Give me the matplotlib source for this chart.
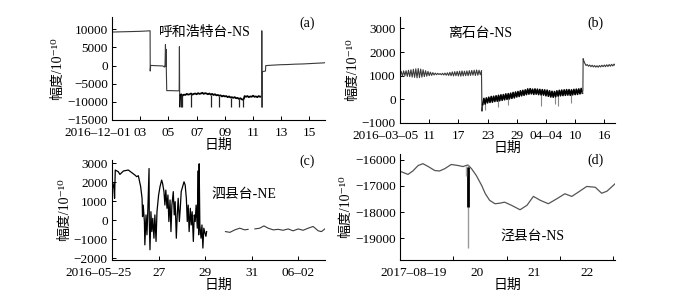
import numpy as np
import matplotlib
matplotlib.use("Agg")
import matplotlib.pyplot as plt
from matplotlib.transforms import ScaledTranslation

plt.rcParams["font.family"] = ["Liberation Serif", "Noto Sans CJK SC", "DejaVu Serif"]
plt.rcParams["font.size"] = 9.5

# ---------------- (a) 呼和浩特台-NS, days since 2016-12-01 ----------------
a_days = [0.0, 0.5, 1.0, 1.5, 2.0, 2.5, 2.70, 2.71, 2.74, 3.0, 3.3, 3.6, 3.72, 3.76,
          3.79, 3.81, 3.83, 3.85, 3.88, 4.2, 4.5, 4.76, 4.78, 4.80]
a_vals = [9250, 9300, 9350, 9400, 9450, 9550, 9600, -1500, 50, 0, -50, -100, -400, 200,
          5800, -300, 4500, -800, -6900, -6900, -6950, -6950, 5200, -11300]
a_noise_days = [4.85, 4.9, 5.0, 5.1, 5.2, 5.3, 5.4, 5.5, 5.6, 5.7, 5.8, 5.9, 6.0, 6.1, 6.2,
                6.3, 6.4, 6.5, 6.6, 6.7, 6.8, 6.9, 7.0, 7.1, 7.2, 7.3, 7.4, 7.5, 7.6, 7.7,
                7.8, 7.9, 8.0, 8.1, 8.2, 8.3, 8.4, 8.5, 8.6, 8.7, 8.8, 8.9, 9.0, 9.1, 9.2,
                9.3, 9.35, 9.4, 9.5, 9.6, 9.7, 9.8, 9.9, 10.0, 10.1, 10.2, 10.3, 10.4, 10.5, 10.6]
a_noise_vals = [-8200, -7900, -8300, -8000, -8100, -7800, -8000, -7900, -7700, -8000, -7800,
                -7700, -7900, -7600, -7800, -7700, -7500, -7800, -7600, -7700, -7900, -7700,
                -8000, -7800, -8100, -7900, -8200, -8100, -8300, -8200, -8500, -8300, -8500,
                -8400, -8700, -8500, -8800, -8700, -8900, -8700, -9000, -8900, -9200, -9000,
                -9300, -9400, -9100, -8400, -8600, -8400, -8700, -8500, -8600, -8300, -8600,
                -8500, -8700, -8400, -8600, -8500]
a_spike_days = [4.86, 4.98, 5.57, 7.0, 7.6, 8.43, 9.02, 9.26]
a_spike_top = [-8100, -8200, -7800, -8000, -8300, -8800, -9200, -9300]
a_spike_bottom = [-11500, -11500, -11300, -11300, -11300, -11300, -11300, -11500]
a_tail_days = [10.60, 10.62, 10.64, 10.66, 10.75, 10.88, 10.90, 11.5, 12.0, 12.5, 13.0,
               13.5, 14.0, 14.5, 15.0, 15.1]
a_tail_vals = [-8500, 9600, -11500, -1700, -1600, -1500, 0, 150, 250, 300, 400, 450, 550,
               650, 750, 800]
a_ticks = [0, 2, 4, 6, 8, 10, 12, 14]
a_ticklabels = ["2016–12–01", "03", "05", "07", "09", "11", "13", "15"]

# ---------------- (b) 离石台-NS, days since 2016-03-05 ----------------
b_osc_vals = [1000, 1180, 980, 1200, 1000, 1210, 970, 1230, 960, 1250, 940, 1270, 930, 1290,
              910, 1300, 920, 1280, 940, 1250, 960, 1210, 980, 1180, 1000, 1150, 1010, 1130,
              1030, 1110, 1040, 1100, 1050, 1090, 1040, 1100, 1030, 1110, 1020, 1120, 1010,
              1140, 1000, 1160, 990, 1170, 1000, 1180, 990, 1190, 980, 1200, 990, 1190, 1000,
              1200, 1000, 1210, 1010, 1220, 1020, 1230, 1010, 1240, 1020, 1230, 1040, 1200]
b_drop_days = [16.75, 16.85, 17.0]
b_drop_vals = [1200, -500, -220]
b_low_vals = [-220, 40, -200, 60, -150, 90, -130, 120, -120, 130, -90, 150, -80, 170, -60,
              190, -40, 200, -20, 230, 0, 240, 20, 260, 40, 290, 60, 310, 100, 330, 120, 360,
              150, 380, 170, 400, 200, 440, 220, 450, 230, 430, 210, 440, 220, 430, 200, 420,
              190, 410, 180, 400, 150, 390, 130, 360, 100, 340, 90, 330, 110, 360, 140, 380,
              150, 390, 160, 400, 170, 410, 180, 410, 170, 400, 190, 420, 200, 430, 210, 440,
              230, 460, 260]
b_tail_days = [37.5, 37.6, 37.65, 37.8, 38.0, 38.25, 38.5, 38.75, 39.0, 39.25, 39.5, 39.75,
               40.0, 40.25, 40.5, 40.75, 41.0, 41.25, 41.5, 41.75, 42.0, 42.25, 42.5, 42.75,
               43.0, 43.25, 43.5, 43.75, 44.0, 44.25]
b_tail_vals = [260, 380, 1720, 1620, 1520, 1430, 1470, 1400, 1450, 1380, 1440, 1370, 1430,
               1360, 1420, 1360, 1430, 1370, 1440, 1380, 1450, 1380, 1460, 1390, 1470, 1400,
               1480, 1410, 1490, 1430]
b_spike_days = [17.4, 20.2, 22.2, 26.7, 29.0, 31.8, 32.5, 35.2]
b_spike_lo = [-450, -320, -250, 300, -300, -200, -280, -150]
b_spike_hi = [-50, 40, 120, 500, 300, 210, 260, 290]
b_ticks = [0, 6, 12, 18, 24, 30, 36, 42]
b_ticklabels = ["2016–03–05", "11", "17", "23", "29", "04–04", "10", "16"]

# ---------------- (c) 泗县台-NE, days since 2016-05-25 ----------------
c_days = [0.0, 0.03, 0.09, 0.11, 0.14, 0.27, 0.34, 0.49, 0.70, 0.84, 0.99, 1.06, 1.13,
          1.17, 1.23, 1.29, 1.31, 1.34, 1.39, 1.41, 1.46, 1.50, 1.54, 1.59, 1.60, 1.63,
          1.67, 1.71, 1.75, 1.80, 1.84, 1.89, 1.93, 2.0, 2.06, 2.13, 2.17, 2.23, 2.27,
          2.31, 2.36, 2.40, 2.44, 2.49, 2.53, 2.57, 2.63, 2.67, 2.71, 2.76, 2.80, 2.84,
          2.89, 2.93, 2.97, 3.03, 3.09, 3.14, 3.19, 3.23, 3.27, 3.31, 3.36, 3.40, 3.44,
          3.49, 3.53, 3.57, 3.61, 3.66, 3.69, 3.71, 3.72, 3.74, 3.77, 3.82, 3.86, 3.90,
          3.94, 3.99, 4.03, 4.06]
c_vals = [600, 1680, 1950, 1160, 2650, 2560, 2420, 2600, 2650, 2520, 2380, 2300, 2350,
          2120, 1770, 1160, 190, 800, -70, -1300, 280, -770, 630, 2730, -70, -1560,
          450, -600, 100, -950, 280, -1120, 450, 1330, 1770, 2120, 1950, 1510, 800,
          1590, 630, 1330, -70, 1070, -600, 800, 1510, 280, 980, -950, 280, 1160,
          -70, 630, 1510, 1770, 2030, 1860, 1160, -70, 800, -600, 630, -250, 450,
          -1120, 280, -70, 800, -420, 2600, 2600, -770, 2980, -250, -950, -250, -1470,
          -420, -680, -850, -600]
c_late_days = [4.87, 5.06, 5.27, 5.48, 5.70, 5.84, 5.98, 6.13, 6.34, 6.52, 6.70, 6.92,
               7.13, 7.34, 7.56, 7.77, 7.99, 8.20, 8.42, 8.63, 8.85, 8.99, 9.13]
c_late_vals = [-600, -640, -510, -420, -510, -480, np.nan, -460, -420, -300, -420, -510,
               -480, -530, -460, -560, -460, -530, -420, -330, -560, -600, -460]
c_ticks = [0, 2, 4, 6, 8]
c_ticklabels = ["2016–05–25", "27", "29", "31", "06–02"]

# ---------------- (d) 泾县台-NS, days since 2017-08-19 ----------------
d_days = [0.0, 0.04, 0.15, 0.24, 0.34, 0.43, 0.53, 0.65, 0.74, 0.84, 0.96, 1.09, 1.18,
          1.24, 1.275, 1.34, 1.43, 1.53, 1.60, 1.68, 1.78, 1.87, 1.96, 2.09, 2.25, 2.38,
          2.50, 2.63, 2.78, 2.94, 3.09, 3.22, 3.34, 3.50, 3.66, 3.78, 3.88, 4.03]
d_vals = [-16450, -16470, -16560, -16430, -16220, -16150, -16260, -16410, -16430, -16340,
          -16180, -16220, -16260, -16220, -16200, -16340, -16600, -16980, -17300, -17550,
          -17680, -17660, -17620, -17740, -17910, -17740, -17400, -17550, -17680, -17490,
          -17300, -17400, -17240, -17020, -17050, -17280, -17200, -16920]
d_spike_day = 1.275
d_spike_lo, d_spike_hi = -19380, -16200
d_spike_core = (-17800, -16280)
d_small_spike = (1.24, -16620, -16240)
d_ticks = [1, 2, 3, 4]
d_label_pos = [0.26, 1.45, 2.52, 3.5]
d_ticklabels = ["2017–08–19", "20", "21", "22"]

fig = plt.figure(figsize=(6.74, 3.0), dpi=100)
W, H = 674, 300


def make_ax(left, top, right, bottom):
    ax = fig.add_axes([left / W, 1 - bottom / H, (right - left) / W, (bottom - top) / H])
    for s in ("top", "right"):
        ax.spines[s].set_visible(False)
    for s in ("left", "bottom"):
        ax.spines[s].set_linewidth(0.8)
    ax.tick_params(direction="in", length=3, width=0.7, pad=3, labelsize=9.5)
    ax.tick_params(axis="x", pad=5)
    ax.set_ylabel("幅度/10⁻¹⁰", fontsize=10, labelpad=2)
    ax.set_xlabel("日期", fontsize=10, labelpad=0)
    return ax


def shift_first(ax, dx_px):
    lab = ax.get_xticklabels()[0]
    lab.set_transform(lab.get_transform() + ScaledTranslation(dx_px / 100, 0, fig.dpi_scale_trans))


line_c = "#3a3a3a"

# (a)
ax = make_ax(112, 17, 325, 120)
ax.plot(a_days, a_vals, color=line_c, lw=0.8)
ax.plot(a_noise_days, a_noise_vals, color="black", lw=1.3)
ax.plot([a_days[-1], a_noise_days[0]], [a_vals[-1], a_noise_vals[0]], color="black", lw=1.0)
ax.vlines(a_spike_days, a_spike_bottom, a_spike_top, color="#222222", lw=0.9)
ax.plot(a_tail_days, a_tail_vals, color=line_c, lw=0.8)
ax.set_xlim(0, 15.1)
ax.set_ylim(-15000, 13400)
ax.set_yticks([10000, 5000, 0, -5000, -10000, -15000])
ax.set_xticks(a_ticks)
ax.set_xticklabels(a_ticklabels)
shift_first(ax, -14)
ax.text(0.437, 0.845, "呼和浩特台-NS", transform=ax.transAxes, ha="center", va="center", fontsize=10)
ax.text(0.915, 0.942, "(a)", transform=ax.transAxes, ha="center", va="center", fontsize=10)

# (b)
ax = make_ax(400, 17, 615, 123)
b_osc_days = np.arange(len(b_osc_vals)) * 0.25
b_low_days = 17.0 + np.arange(len(b_low_vals)) * 0.25
ax.plot(b_osc_days, b_osc_vals, color=line_c, lw=0.8)
ax.plot(b_drop_days, b_drop_vals, color=line_c, lw=0.8)
ax.vlines(b_spike_days, b_spike_lo, b_spike_hi, color="#888888", lw=0.8)
ax.plot(b_low_days, b_low_vals, color="black", lw=1.2)
ax.plot(b_tail_days, b_tail_vals, color=line_c, lw=0.8)
ax.set_xlim(0, 44.2)
ax.set_ylim(-1000, 3480)
ax.set_yticks([-1000, 0, 1000, 2000, 3000])
ax.set_xticks(b_ticks)
ax.set_xticklabels(b_ticklabels)
shift_first(ax, -14)
ax.text(0.372, 0.849, "离石台-NS", transform=ax.transAxes, ha="center", va="center", fontsize=10)
ax.text(0.907, 0.943, "(b)", transform=ax.transAxes, ha="center", va="center", fontsize=10)

# (c)
ax = make_ax(112, 160, 325, 260)
ax.plot(c_days, c_vals, color="black", lw=0.9)
ax.plot(c_late_days, c_late_vals, color=line_c, lw=0.8)
ax.set_xlim(0, 9.14)
ax.set_ylim(-2100, 3180)
ax.set_yticks([-2000, -1000, 0, 1000, 2000, 3000])
ax.set_xticks(c_ticks)
ax.set_xticklabels(c_ticklabels)
shift_first(ax, -14)
ax.text(0.62, 0.66, "泗县台-NE", transform=ax.transAxes, ha="center", va="center", fontsize=10)
ax.text(0.915, 0.99, "(c)", transform=ax.transAxes, ha="center", va="center", fontsize=10)

# (d)
ax = make_ax(400, 154, 615, 260)
ax.plot(d_days, d_vals, color="#555555", lw=0.9)
ax.vlines([d_spike_day], [d_spike_lo], [d_spike_hi], color="#999999", lw=1.0)
ax.vlines([d_spike_day], [d_spike_core[0]], [d_spike_core[1]], color="black", lw=2.0)
ax.vlines([d_small_spike[0]], [d_small_spike[1]], [d_small_spike[2]], color="#aaaaaa", lw=1.0)
ax.set_xlim(0, 4.03)
ax.set_ylim(-19830, -15780)
ax.set_yticks([-16000, -17000, -18000, -19000])
ax.set_xticks(d_ticks)
ax.set_xticklabels([])
ax.set_xticks(d_label_pos, minor=True)
ax.set_xticklabels(d_ticklabels, minor=True)
ax.tick_params(axis="x", which="minor", length=0, pad=5, labelsize=9.5)
ax.text(0.614, 0.226, "泾县台-NS", transform=ax.transAxes, ha="center", va="center", fontsize=10)
ax.text(0.907, 0.943, "(d)", transform=ax.transAxes, ha="center", va="center", fontsize=10)

fig.savefig("out.png", dpi=100)
